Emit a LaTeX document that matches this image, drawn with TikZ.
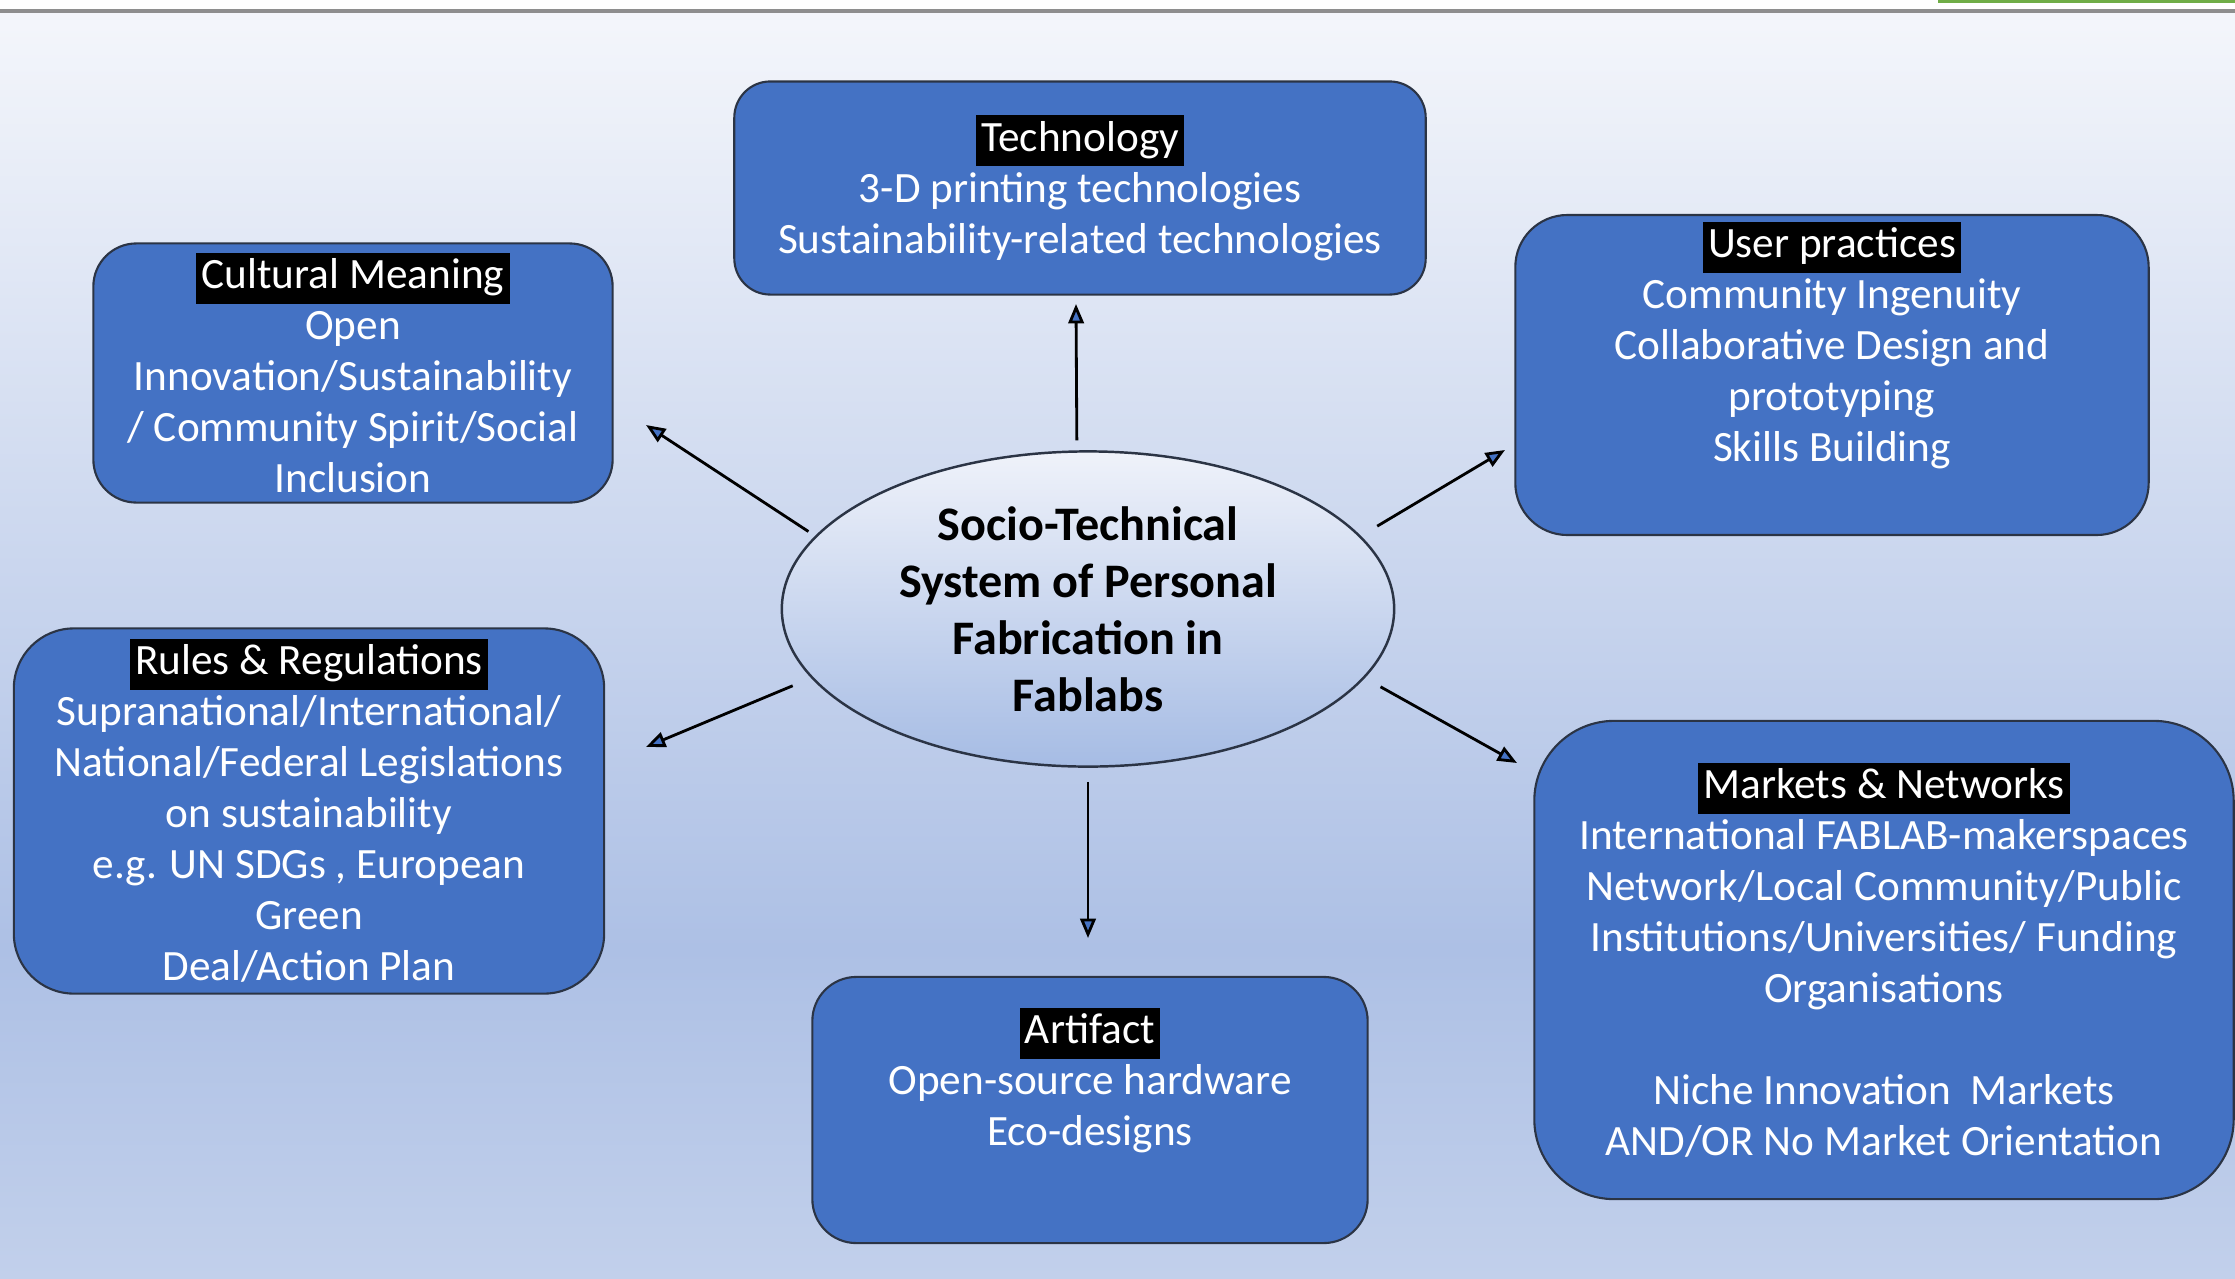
\documentclass[tikz,border=0pt]{standalone}
\usepackage{fontspec}
\setmainfont{Carlito}
\usepackage{tikz}
\usetikzlibrary{positioning}
\usetikzlibrary{shapes.geometric,arrows.meta}

\definecolor{boxblue}{HTML}{4472C4}
\definecolor{boxline}{HTML}{2B3445}
\definecolor{bgtop}{HTML}{F4F6FB}
\definecolor{bgdark}{HTML}{ADC0E5}
\definecolor{bgbot}{HTML}{C2D0EB}
\definecolor{hubtop}{HTML}{EFF2FA}
\definecolor{hubbot}{HTML}{A6BCE4}
\definecolor{rulegray}{HTML}{8E8E8E}
\definecolor{tabgreen}{HTML}{70AD47}

\pgfdeclareverticalshading{backdrop}{100bp}{color(0bp)=(bgbot); color(25bp)=(bgbot);
    color(38bp)=(bgdark); color(75bp)=(bgtop); color(100bp)=(bgtop)}

\tikzstyle{block} = [rectangle, draw=boxline, line width=0.6pt, fill=boxblue,
    text=white, align=center, font=\fontsize{12.3}{14.5}\selectfont, inner sep=2pt]
\tikzstyle{hubshape} = [ellipse, draw=boxline, line width=0.7pt, top color=hubtop,
    bottom color=hubbot, align=center, font=\bfseries\fontsize{13.7}{16.2}\selectfont,
    minimum width=6.12cm, minimum height=3.15cm, inner sep=0pt]
\tikzstyle{link} = [draw, line width=0.8pt, -{Triangle[length=5.5pt,width=4.4pt,fill=boxblue]}]

\newcommand{\boxtitle}[1]{{\setlength{\fboxsep}{0pt}\colorbox{black}{\strut\kern1.5pt#1\kern1.5pt}}}

\begin{document}
\begin{tikzpicture}[x=0.01cm, y=-0.01cm]
    % Backdrop
    \useasboundingbox (0,0) rectangle (2235,1278);
    \fill [shading=backdrop] (0,11) rectangle (2235,1278);
    \draw [rulegray, line width=1pt] (0,11) -- (2235,11);
    \fill [tabgreen] (1938,0) rectangle (2235,3);

    % Place nodes
    \node [hubshape] (sts) at (1088,609) {Socio-Technical\\System of Personal\\Fabrication in\\Fablabs};
    \node [block, minimum width=6.91cm, minimum height=2.13cm, rounded corners=0.36cm] (tech) at (1080,188)
        {\boxtitle{Technology}\\3-D printing technologies\\Sustainability-related technologies};
    \node [block, minimum width=5.19cm, minimum height=2.59cm, rounded corners=0.43cm] (cult) at (353,373)
        {\boxtitle{Cultural Meaning}\\Open\\Innovation/Sustainability\\/ Community Spirit/Social\\Inclusion};
    \node [block, minimum width=6.33cm, minimum height=3.14cm, rounded corners=0.52cm] (user) at (1832,375)
        {\boxtitle{User practices}\\Community Ingenuity\\Collaborative Design and\\prototyping\\Skills Building\\\strut};
    \node [block, minimum width=5.90cm, minimum height=3.65cm, rounded corners=0.6cm] (rules) at (309,811)
        {\boxtitle{Rules \& Regulations}\\Supranational/International/\\National/Federal Legislations\\on sustainability\\e.g. UN SDGs , European\\Green\\Deal/Action Plan};
    \node [block, minimum width=6.99cm, minimum height=4.78cm, rounded corners=0.8cm] (mark) at (1884,960)
        {\boxtitle{Markets \& Networks}\\International FABLAB-makerspaces\\Network/Local Community/Public\\Institutions/Universities/ Funding\\Organisations\\[14.5pt]Niche Innovation\ \ Markets\\AND/OR No Market Orientation};
    \node [block, minimum width=5.55cm, minimum height=2.66cm, rounded corners=0.44cm] (art) at (1090,1110)
        {\boxtitle{Artifact}\\Open-source hardware\\Eco-designs\\\strut};

    % Arrow tips
    \coordinate (techTip) at (1076,304);
    \coordinate (cultTip) at (646,425);
    \coordinate (userTip) at (1505,450);
    \coordinate (rulesTip) at (646,747);
    \coordinate (markTip) at (1517,763);
    \coordinate (artTip) at (1088,938);

    % Draw edges
    \path [link, shorten <=0.1cm] (sts.94) -- (techTip);
    \path [link, shorten <=0.08cm] (sts.165) -- (cultTip);
    \path [link, shorten <=0.19cm] (sts.15) -- (userTip);
    \path [link, shorten <=0.2cm] (sts.194) -- (rulesTip);
    \path [link, shorten <=0.18cm] (sts.346) -- (markTip);
    \path [link, shorten <=0.14cm] (sts.270) -- (artTip);
\end{tikzpicture}
\end{document}
